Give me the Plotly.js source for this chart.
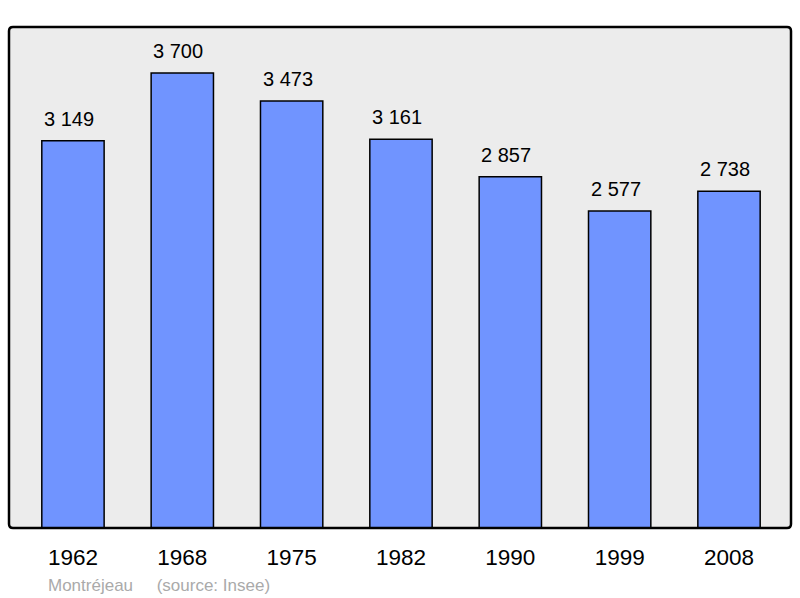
<!DOCTYPE html>
<html>
<head>
<meta charset="utf-8">
<script src="https://cdn.plot.ly/plotly-3.0.1.min.js"></script>
<style>
  html, body { margin: 0; padding: 0; background: #fff; }
  #chart { width: 800px; height: 598px; }
</style>
</head>
<body>
<div id="chart"></div>
<script>
// population by census year
const years  = ['1962', '1968', '1975', '1982', '1990', '1999', '2008'];
const values = [3149, 3700, 3473, 3161, 2857, 2577, 2738];
const labels = ['3 149', '3 700', '3 473', '3 161', '2 857', '2 577', '2 738'];

const FONT = 'Liberation Sans, Arial, sans-serif';
const W = 782, H = 501; // plot area in px

// rounded frame around the plot area, in paper coords
const rx = 4 / W, ry = 4 / H;
const frame = `M ${rx},0 L ${1 - rx},0 Q 1,0 1,${ry} L 1,${1 - ry} Q 1,1 ${1 - rx},1 ` +
              `L ${rx},1 Q 0,1 0,${1 - ry} L 0,${ry} Q 0,0 ${rx},0 Z`;

const traces = [{
  type: 'bar',
  x: years.map((_, i) => i),
  y: values,
  width: 0.57,
  marker: { color: '#7094ff', line: { color: '#000', width: 1.5 } },
  hoverinfo: 'skip',
}];

const layout = {
  width: 800, height: 598,
  margin: { l: 9, r: 9, t: 27, b: 70 },
  paper_bgcolor: '#fff',
  plot_bgcolor: '#ececec',
  showlegend: false,
  font: { family: FONT, color: '#000' },
  xaxis: {
    range: [-0.585, 6.567],
    tickvals: years.map((_, i) => i),
    ticktext: years,
    tickfont: { size: 22.5, family: FONT, color: '#000' },
    ticklabelstandoff: 13,
    ticks: '', showgrid: false, zeroline: false, showline: false,
    fixedrange: true,
  },
  yaxis: {
    range: [0, 4074],
    visible: false, showgrid: false, zeroline: false,
    fixedrange: true,
  },
  shapes: [{
    type: 'path', xref: 'paper', yref: 'paper',
    path: frame,
    line: { color: '#000', width: 2.5 },
  }],
  annotations: values.map((v, i) => ({
    x: i, y: v, xref: 'x', yref: 'y',
    text: labels[i], showarrow: false,
    yanchor: 'bottom', yshift: 9, xshift: -4,
    font: { size: 20, family: FONT, color: '#000' },
  })).concat([{
    xref: 'paper', yref: 'paper', x: 37 / W, y: -57 / H,
    xanchor: 'left', yanchor: 'middle',
    text: 'Montréjeau&nbsp;&nbsp;&nbsp;&nbsp;&nbsp;(source: Insee)',
    showarrow: false,
    font: { size: 17, family: FONT, color: '#aaaaaa' },
  }]),
};

Plotly.newPlot('chart', traces, layout, { displayModeBar: false, staticPlot: true });
</script>
</body>
</html>
